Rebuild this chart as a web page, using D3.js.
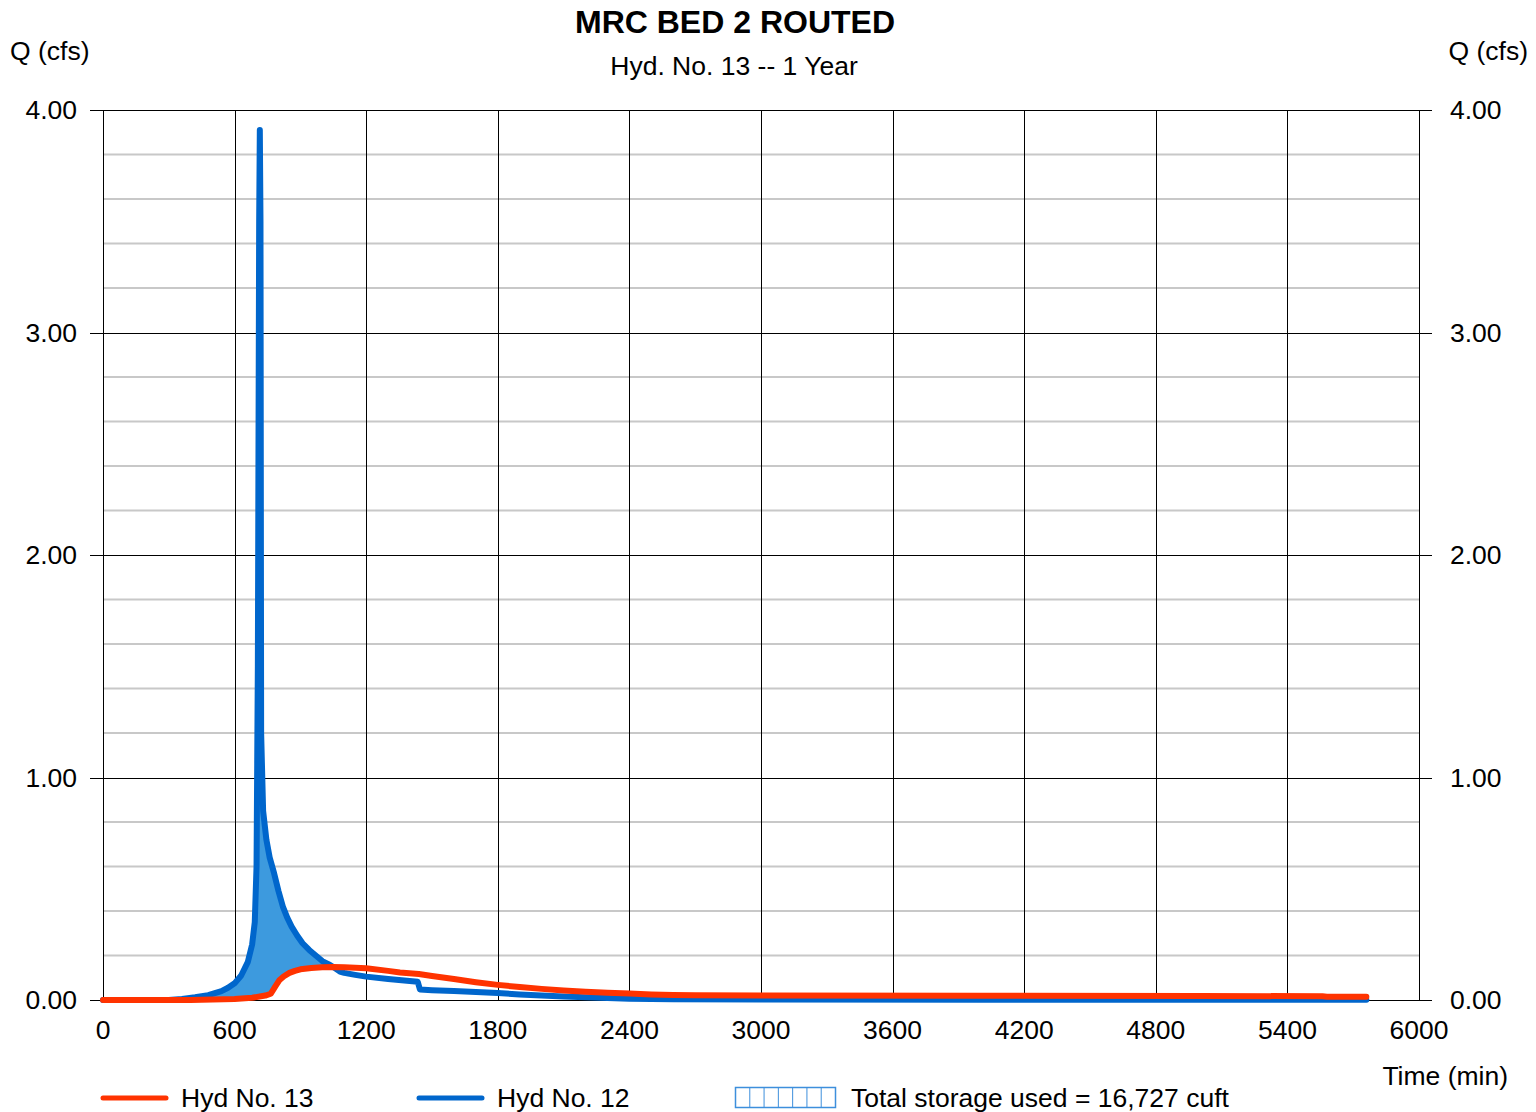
<!DOCTYPE html>
<html lang="en">
<head>
<meta charset="UTF-8">
<title>MRC BED 2 ROUTED</title>
<script src="https://cdn.jsdelivr.net/npm/d3@7"></script>
<style>
    body { margin: 0; background: #fff; }
    svg text { font-family: "Liberation Sans", Arial, sans-serif; fill: #000; }
    .minor line { stroke: #c8c8c8; stroke-width: 2px; }
    .major line { stroke: #000; stroke-width: 1px; }
</style>
</head>
<body>
<div id="chart"></div>
<script>
    // Hyd No. 12 (inflow)
    var inTime = [0, 300, 360, 420, 480, 540, 570, 600, 630, 660, 680, 692, 700, 706, 712, 715, 718, 721, 730, 745,
        760, 780, 800, 820, 840, 860, 885, 910, 940, 970, 1000, 1030, 1050, 1080, 1100, 1150, 1200, 1300, 1435, 1445,
        1500, 1600, 1700, 1800, 1900, 2000, 2100, 2200, 2300, 2400, 2500, 2600, 3000, 4000, 5000, 5760];
    var inQ = [0, 0, 0.005, 0.012, 0.022, 0.04, 0.055, 0.075, 0.11, 0.17, 0.25, 0.35, 0.6, 1.5, 3.5, 3.91, 3.5, 1.2, 0.85, 0.72,
        0.64, 0.57, 0.49, 0.42, 0.37, 0.33, 0.29, 0.255, 0.225, 0.2, 0.175, 0.16, 0.148, 0.128, 0.122, 0.113, 0.105, 0.094,
        0.082, 0.047, 0.044, 0.04, 0.036, 0.031, 0.025, 0.02, 0.016, 0.012, 0.009, 0.006, 0.004, 0.003, 0.002, 0.001, 0.001,
        0.001];

    // Hyd No. 13 (outflow)
    var outTime = [0, 400, 500, 600, 680, 740, 765, 785, 805, 825, 850, 875, 900, 950, 1000, 1050, 1100, 1200, 1300,
        1354, 1440, 1500, 1600, 1700, 1800, 1900, 2000, 2100, 2200, 2300, 2400, 2500, 2600, 2700, 3000, 4000, 5000,
        5560, 5580, 5760];
    var outQ = [0, 0, 0.002, 0.005, 0.01, 0.02, 0.028, 0.06, 0.09, 0.107, 0.122, 0.131, 0.138, 0.144, 0.147, 0.148, 0.147,
        0.143, 0.131, 0.124, 0.117, 0.108, 0.094, 0.08, 0.068, 0.058, 0.05, 0.043, 0.037, 0.033, 0.029, 0.025, 0.022, 0.021,
        0.02, 0.019, 0.018, 0.017, 0.015, 0.015];

    var xTicks = [0, 600, 1200, 1800, 2400, 3000, 3600, 4200, 4800, 5400, 6000];
    var yMajor = [0, 1, 2, 3, 4];
    var yMinor = d3.range(0.2, 4, 0.2).filter(function (v) { return Math.abs(v - Math.round(v)) > 0.01; });

    var W = 1536, H = 1112;
    var pLeft = 103, pRight = 1419, pTop = 110, pBottom = 1000;
    var fs = 26.5;

    var svg = d3.select("#chart").append("svg")
        .attr("width", W)
        .attr("height", H);

    var x = d3.scaleLinear().domain([0, 6000]).range([pLeft, pRight]);
    var y = d3.scaleLinear().domain([0, 4]).range([pBottom, pTop]);

    // grid
    svg.append("g").attr("class", "minor")
        .selectAll("line").data(yMinor).enter().append("line")
        .attr("x1", pLeft).attr("x2", pRight)
        .attr("y1", function (d) { return y(d); })
        .attr("y2", function (d) { return y(d); });

    svg.append("g").attr("class", "major")
        .selectAll("line").data(xTicks).enter().append("line")
        .attr("x1", function (d) { return Math.round(x(d)) + 0.5; })
        .attr("x2", function (d) { return Math.round(x(d)) + 0.5; })
        .attr("y1", pTop).attr("y2", pBottom);

    svg.append("g").attr("class", "major")
        .selectAll("line").data(yMajor).enter().append("line")
        .attr("x1", pLeft - 13).attr("x2", pRight + 13)
        .attr("y1", function (d) { return Math.round(y(d)) + 0.5; })
        .attr("y2", function (d) { return Math.round(y(d)) + 0.5; });

    // axis labels
    svg.append("g").selectAll("text").data(yMajor).enter().append("text")
        .attr("x", 77).attr("y", function (d) { return y(d) + 9; })
        .attr("text-anchor", "end").attr("font-size", fs)
        .text(function (d) { return d3.format(".2f")(d); });

    svg.append("g").selectAll("text").data(yMajor).enter().append("text")
        .attr("x", 1450).attr("y", function (d) { return y(d) + 9; })
        .attr("font-size", fs)
        .text(function (d) { return d3.format(".2f")(d); });

    svg.append("g").selectAll("text").data(xTicks).enter().append("text")
        .attr("x", function (d) { return x(d); }).attr("y", 1039)
        .attr("text-anchor", "middle").attr("font-size", fs)
        .text(function (d) { return d; });

    // storage fill (inflow above outflow)
    var outAt = function (t) {
        var i = d3.bisectLeft(outTime, t);
        if (i <= 0) return outQ[0];
        if (i >= outTime.length) return outQ[outQ.length - 1];
        var t0 = outTime[i - 1], t1 = outTime[i];
        return outQ[i - 1] + (outQ[i] - outQ[i - 1]) * (t - t0) / (t1 - t0);
    };
    var fillPts = inTime.map(function (t, i) {
        return { t: t, q0: outAt(t), q1: Math.max(inQ[i], outAt(t)) };
    }).filter(function (d) { return d.t <= 1200; });

    svg.append("path")
        .datum(fillPts)
        .attr("fill", "#3d9ade")
        .attr("d", d3.area()
            .x(function (d) { return x(d.t); })
            .y0(function (d) { return y(d.q0); })
            .y1(function (d) { return y(d.q1); }));

    var line = d3.line()
        .x(function (d) { return x(d[0]); })
        .y(function (d) { return y(d[1]); });

    svg.append("path")
        .datum(d3.zip(inTime, inQ))
        .attr("fill", "none").attr("stroke", "#0066cc").attr("stroke-width", 6)
        .attr("stroke-linecap", "round").attr("stroke-linejoin", "round")
        .attr("d", line);

    svg.append("path")
        .datum(d3.zip(outTime, outQ))
        .attr("fill", "none").attr("stroke", "#ff3300").attr("stroke-width", 6)
        .attr("stroke-linecap", "round").attr("stroke-linejoin", "round")
        .attr("d", line);

    // titles
    svg.append("text").attr("x", 735).attr("y", 33).attr("text-anchor", "middle")
        .attr("font-size", 32).attr("font-weight", "bold").text("MRC BED 2 ROUTED");
    svg.append("text").attr("x", 734).attr("y", 75).attr("text-anchor", "middle")
        .attr("font-size", fs).text("Hyd. No. 13 -- 1 Year");
    svg.append("text").attr("x", 10).attr("y", 60).attr("font-size", fs).text("Q (cfs)");
    svg.append("text").attr("x", 1528).attr("y", 60).attr("text-anchor", "end")
        .attr("font-size", fs).text("Q (cfs)");
    svg.append("text").attr("x", 1508).attr("y", 1085).attr("text-anchor", "end")
        .attr("font-size", fs).text("Time (min)");

    // legend
    var lg = svg.append("g");
    lg.append("line").attr("x1", 103).attr("x2", 166).attr("y1", 1098).attr("y2", 1098)
        .attr("stroke", "#ff3300").attr("stroke-width", 5).attr("stroke-linecap", "round");
    lg.append("text").attr("x", 181).attr("y", 1107).attr("font-size", fs).text("Hyd No. 13");
    lg.append("line").attr("x1", 419).attr("x2", 482).attr("y1", 1098).attr("y2", 1098)
        .attr("stroke", "#0066cc").attr("stroke-width", 5).attr("stroke-linecap", "round");
    lg.append("text").attr("x", 497).attr("y", 1107).attr("font-size", fs).text("Hyd No. 12");
    lg.append("rect").attr("x", 735.5).attr("y", 1087.5).attr("width", 100).attr("height", 20)
        .attr("fill", "#fff").attr("stroke", "#3d8fdc").attr("stroke-width", 1.5);
    lg.selectAll("line.hatch").data(d3.range(1, 7)).enter().append("line")
        .attr("class", "hatch")
        .attr("x1", function (d) { return 735.5 + d * 100 / 7; })
        .attr("x2", function (d) { return 735.5 + d * 100 / 7; })
        .attr("y1", 1087.5).attr("y2", 1107.5)
        .attr("stroke", "#3d8fdc").attr("stroke-width", 1);
    lg.append("text").attr("x", 851).attr("y", 1107).attr("font-size", fs)
        .text("Total storage used = 16,727 cuft");
</script>
</body>
</html>
